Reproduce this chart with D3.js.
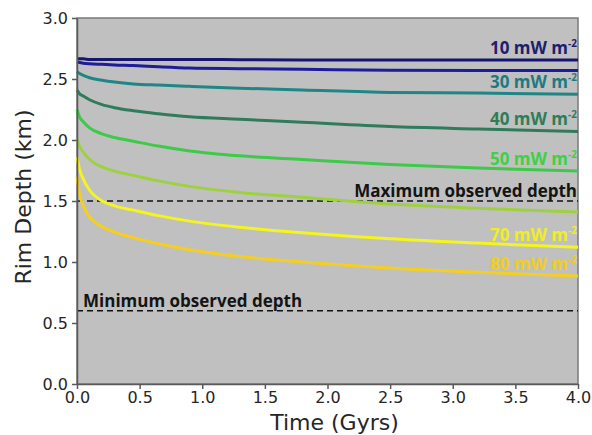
<!DOCTYPE html>
<html lang="en">
<head>
    <title>Rim Depth vs Time</title>
    <script src="https://d3js.org/d3.v7.min.js"></script>
    <style>
        body { margin: 0; background: #fff; }
        svg { display: block; }
        .axis text { font-family: "DejaVu Sans", sans-serif; font-size: 16px; fill: #262626; }
        .axis path, .axis line { stroke: #5a5a5a; stroke-width: 1.5; }
        .title { font-family: "DejaVu Sans", sans-serif; font-size: 22px; fill: #262626; }
        .note { font-family: "Open Sans", sans-serif; font-size: 17px; font-weight: bold; }
    </style>
</head>
<body>
    <svg id="chart"></svg>

    <script>
        // time axis (Gyrs)
        var times = [0, 0.02, 0.05, 0.1, 0.2, 0.3, 0.45, 0.65, 0.9, 1.3, 1.8, 2.5, 3.2, 4.0];

        // rim depth (km) for each surface heat flux
        var depth10 = [2.665, 2.665, 2.665, 2.66, 2.66, 2.66, 2.66, 2.66, 2.66, 2.658, 2.656, 2.655, 2.655, 2.655];
        var depth20 = [2.64, 2.635, 2.63, 2.625, 2.62, 2.615, 2.61, 2.60, 2.59, 2.585, 2.58, 2.572, 2.57, 2.57];
        var depth30 = [2.56, 2.545, 2.53, 2.51, 2.49, 2.475, 2.46, 2.45, 2.44, 2.425, 2.41, 2.39, 2.385, 2.375];
        var depth40 = [2.41, 2.38, 2.36, 2.33, 2.29, 2.265, 2.24, 2.215, 2.19, 2.17, 2.145, 2.11, 2.09, 2.07];
        var depth50 = [2.25, 2.19, 2.15, 2.10, 2.05, 2.02, 1.99, 1.95, 1.91, 1.87, 1.84, 1.80, 1.77, 1.745];
        var depth60 = [2.01, 1.95, 1.90, 1.84, 1.78, 1.745, 1.71, 1.665, 1.62, 1.57, 1.53, 1.475, 1.44, 1.41];
        var depth70 = [1.86, 1.76, 1.68, 1.59, 1.50, 1.46, 1.425, 1.38, 1.335, 1.285, 1.24, 1.19, 1.155, 1.12];
        var depth80 = [1.70, 1.56, 1.46, 1.37, 1.29, 1.245, 1.20, 1.15, 1.10, 1.045, 1.00, 0.95, 0.915, 0.885];

        var fluxes = [10, 20, 30, 40, 50, 60, 70, 80];
        var depths = [depth10, depth20, depth30, depth40, depth50, depth60, depth70, depth80];
        var labelledFluxes = [10, 30, 40, 50, 70, 80];

        var refDepths = [1.5, 0.6];
        var refLabels = ["Maximum observed depth", "Minimum observed depth"];

        var xTicks = [0, 0.5, 1.0, 1.5, 2.0, 2.5, 3.0, 3.5, 4.0];
        var yTicks = [0, 0.5, 1.0, 1.5, 2.0, 2.5, 3.0];

        var lineColors = {
            10: "#161672", 20: "#1c1c9c", 30: "#1f8585", 40: "#2f7b5c",
            50: "#3cca48", 60: "#9dd23e", 70: "#f4f41e", 80: "#f5cf20"
        };
        var labelColors = {
            10: "#1e1e6e", 30: "#1f7a7f", 40: "#2f7d58", 50: "#40d046", 70: "#f0ee1e", 80: "#f0cd1e"
        };

        var width = 592;
        var height = 435;
        var margins = { left: 77, top: 18, right: 14, bottom: 51 };
        var innerW = width - margins.left - margins.right;
        var innerH = height - margins.top - margins.bottom;

        var svg = d3.select("#chart")
            .attr("width", width)
            .attr("height", height);

        var xscale = d3.scaleLinear().domain([0, 4]).range([0, innerW]);
        var yscale = d3.scaleLinear().domain([0, 3]).range([innerH, 0]);

        var g = svg.append("g")
            .attr("transform", "translate(" + margins.left + "," + margins.top + ")");

        g.append("rect")
            .attr("width", innerW)
            .attr("height", innerH)
            .attr("fill", "#c0c0c0")
            .attr("stroke", "#7a7a7a")
            .attr("stroke-width", 1.5);

        // reference depth lines
        g.selectAll(".ref")
            .data(refDepths)
            .enter()
            .append("line")
            .attr("x1", 0)
            .attr("x2", innerW)
            .attr("y1", function (d) { return yscale(d); })
            .attr("y2", function (d) { return yscale(d); })
            .attr("stroke", "#111")
            .attr("stroke-width", 1.5)
            .attr("stroke-dasharray", "6,4");

        var line = d3.line()
            .x(function (d, i) { return xscale(times[i]); })
            .y(function (d) { return yscale(d); })
            .curve(d3.curveMonotoneX);

        g.selectAll(".curve")
            .data(depths)
            .enter()
            .append("path")
            .attr("class", "curve")
            .attr("d", line)
            .attr("fill", "none")
            .attr("stroke", function (d, i) { return lineColors[fluxes[i]]; })
            .attr("stroke-width", 3);

        // heat flux labels at the right end of their curves
        labelledFluxes.forEach(function (f) {
            var vals = depths[fluxes.indexOf(f)];
            var t = g.append("text")
                .attr("class", "note")
                .attr("x", innerW - 1)
                .attr("y", yscale(vals[vals.length - 1]) - 6)
                .attr("text-anchor", "end")
                .attr("fill", labelColors[f]);
            t.append("tspan").text(f + " mW m");
            t.append("tspan")
                .attr("dy", -7)
                .attr("font-size", "10px")
                .text("-2");
        });

        g.append("text")
            .attr("class", "note")
            .attr("x", innerW - 1)
            .attr("y", yscale(refDepths[0]) - 4.5)
            .attr("text-anchor", "end")
            .attr("fill", "#141414")
            .text(refLabels[0]);

        g.append("text")
            .attr("class", "note")
            .attr("x", 6)
            .attr("y", yscale(refDepths[1]) - 4)
            .attr("fill", "#141414")
            .text(refLabels[1]);

        var xaxis = d3.axisBottom(xscale)
            .tickValues(xTicks)
            .tickFormat(d3.format(".1f"))
            .tickSize(5)
            .tickPadding(3)
            .tickSizeOuter(0);
        var yaxis = d3.axisLeft(yscale)
            .tickValues(yTicks)
            .tickFormat(d3.format(".1f"))
            .tickSize(5)
            .tickPadding(4)
            .tickSizeOuter(0);

        g.append("g")
            .attr("class", "axis")
            .attr("transform", "translate(0," + innerH + ")")
            .call(xaxis);
        g.append("g")
            .attr("class", "axis")
            .call(yaxis);

        svg.append("text")
            .attr("class", "title")
            .attr("x", margins.left + innerW / 2 + 7)
            .attr("y", 429.5)
            .attr("text-anchor", "middle")
            .text("Time (Gyrs)");

        svg.append("text")
            .attr("class", "title")
            .attr("transform", "translate(31," + (margins.top + innerH / 2 - 4) + ") rotate(-90)")
            .attr("text-anchor", "middle")
            .text("Rim Depth (km)");
    </script>
</body>
</html>
